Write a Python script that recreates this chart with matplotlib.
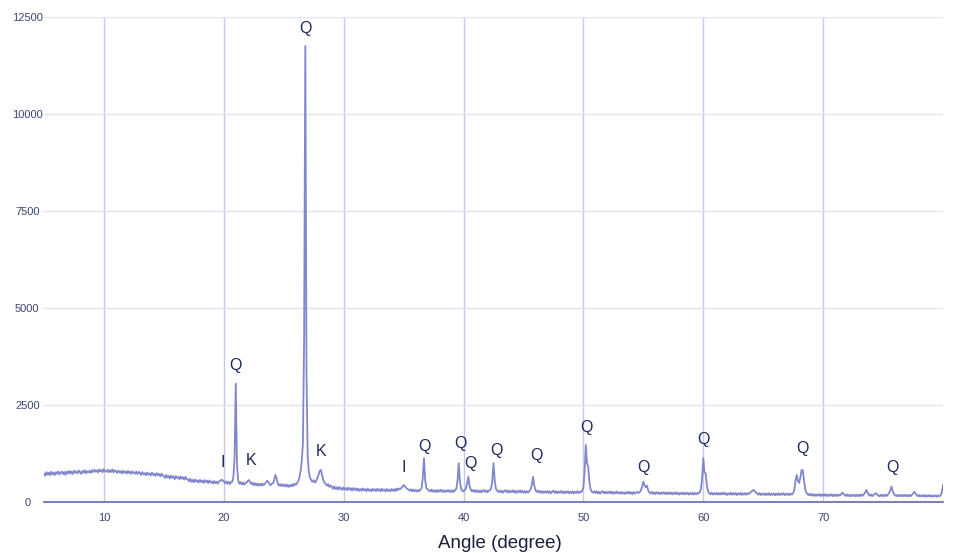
import matplotlib
matplotlib.use("Agg")
import matplotlib.pyplot as plt
import numpy as np

plt.rcParams['font.family'] = ['Liberation Sans', 'DejaVu Sans']

# XRD pattern, one value every 0.1 degree from 5.0 to 80.0
counts = [
    # 5.0 - 6.9
    730, 680, 770, 705, 755, 690, 780, 715, 760, 695, 770, 725, 790, 710, 760, 780, 720, 775, 700, 785,
    # 7.0 - 8.9
    735, 800, 730, 785, 720, 805, 750, 790, 735, 810, 770, 725, 800, 755, 820, 740, 795, 760, 810, 750,
    # 9.0 - 10.9
    820, 770, 835, 780, 815, 760, 840, 785, 825, 770, 850, 790, 780, 830, 765, 820, 775, 840, 760, 815,
    # 11.0 - 12.9
    800, 750, 810, 760, 795, 735, 805, 755, 790, 730, 800, 745, 785, 725, 790, 750, 730, 785, 720, 775,
    # 13.0 - 14.9
    755, 700, 770, 710, 745, 690, 760, 705, 740, 680, 755, 695, 730, 670, 745, 690, 725, 660, 730, 680,
    # 15.0 - 16.9
    675, 620, 700, 630, 670, 605, 680, 625, 660, 590, 665, 615, 650, 585, 660, 600, 640, 575, 650, 590,
    # 17.0 - 18.9
    585, 530, 600, 520, 570, 510, 580, 525, 560, 500, 570, 515, 555, 490, 565, 510, 550, 485, 555, 500,
    # 19.0 - 20.9
    530, 475, 540, 485, 525, 470, 535, 540, 575, 560, 530, 485, 530, 470, 520, 460, 510, 520, 640, 1150,
    # 21.0 - 22.9
    3050, 950, 560, 470, 515, 450, 500, 445, 490, 500, 540, 565, 510, 460, 500, 435, 485, 430, 475, 420,
    # 23.0 - 24.9
    470, 425, 480, 430, 465, 490, 545, 530, 470, 430, 470, 480, 560, 700, 610, 480, 420, 465, 410, 455,
    # 25.0 - 26.9
    405, 450, 395, 445, 390, 440, 400, 455, 410, 470, 440, 480, 530, 620, 780, 1050, 1500, 4200, 11750, 3300,
    # 27.0 - 28.9
    1150, 760, 620, 560, 520, 560, 500, 540, 610, 700, 800, 825, 690, 560, 500, 470, 420, 460, 390, 430,
    # 29.0 - 30.9
    395, 340, 405, 335, 380, 320, 390, 330, 365, 310, 375, 320, 360, 305, 370, 315, 355, 295, 360, 310,
    # 31.0 - 32.9
    350, 295, 345, 285, 335, 290, 350, 300, 330, 280, 345, 290, 325, 275, 340, 295, 330, 280, 340, 290,
    # 33.0 - 34.9
    330, 275, 340, 290, 325, 270, 335, 285, 320, 275, 335, 290, 330, 280, 345, 300, 350, 330, 360, 385,
    # 35.0 - 36.9
    440, 405, 370, 335, 320, 290, 330, 275, 320, 270, 315, 265, 310, 275, 320, 360, 620, 1130, 560, 360,
    # 37.0 - 38.9
    330, 290, 275, 320, 265, 310, 260, 305, 255, 310, 270, 315, 260, 305, 255, 300, 265, 310, 260, 300,
    # 39.0 - 40.9
    255, 305, 260, 310, 340, 560, 1000, 520, 340, 290, 270, 310, 350, 480, 650, 420, 320, 275, 310, 260,
    # 41.0 - 42.9
    305, 255, 300, 250, 295, 245, 290, 310, 260, 300, 250, 295, 300, 350, 540, 1000, 560, 340, 290, 260,
    # 43.0 - 44.9
    295, 245, 290, 240, 285, 305, 250, 295, 240, 290, 255, 300, 245, 290, 235, 285, 250, 300, 245, 290,
    # 45.0 - 46.9
    240, 285, 235, 280, 245, 285, 330, 450, 650, 420, 310, 260, 295, 240, 285, 235, 280, 230, 275, 240,
    # 47.0 - 48.9
    285, 230, 275, 225, 270, 290, 235, 280, 225, 270, 240, 285, 230, 275, 220, 270, 235, 280, 225, 265,
    # 49.0 - 50.9
    230, 275, 220, 265, 230, 280, 225, 270, 250, 290, 380, 800, 1470, 1000, 910, 520, 330, 260, 240, 280,
    # 51.0 - 52.9
    230, 275, 220, 265, 215, 260, 280, 225, 265, 215, 260, 230, 275, 220, 265, 210, 260, 225, 270, 220,
    # 53.0 - 54.9
    255, 210, 260, 215, 250, 205, 255, 220, 265, 210, 250, 205, 260, 215, 240, 260, 235, 255, 300, 400,
    # 55.0 - 56.9
    525, 430, 380, 420, 300, 250, 220, 260, 210, 250, 205, 255, 215, 250, 200, 245, 210, 255, 205, 245,
    # 57.0 - 58.9
    200, 250, 210, 245, 195, 240, 205, 250, 200, 240, 190, 235, 205, 245, 195, 235, 200, 240, 190, 230,
    # 59.0 - 60.9
    200, 240, 190, 235, 200, 235, 215, 250, 320, 600, 1130, 760, 740, 430, 280, 225, 195, 240, 190, 230,
    # 61.0 - 62.9
    195, 240, 190, 230, 185, 235, 200, 245, 190, 230, 180, 225, 195, 240, 185, 230, 190, 235, 180, 225,
    # 63.0 - 64.9
    190, 235, 180, 225, 190, 235, 185, 230, 205, 240, 260, 290, 310, 270, 240, 215, 185, 230, 180, 220,
    # 65.0 - 66.9
    185, 225, 175, 220, 180, 230, 175, 215, 185, 225, 170, 215, 180, 225, 175, 220, 185, 230, 175, 215,
    # 67.0 - 68.9
    180, 220, 175, 215, 195, 230, 320, 560, 695, 540, 490, 640, 825, 820, 560, 340, 240, 200, 175, 215,
    # 69.0 - 70.9
    165, 205, 160, 200, 155, 195, 165, 205, 150, 195, 160, 200, 155, 195, 150, 190, 160, 200, 150, 190,
    # 71.0 - 72.9
    155, 195, 150, 190, 170, 200, 240, 210, 180, 155, 195, 150, 190, 145, 185, 155, 195, 145, 185, 150,
    # 73.0 - 74.9
    190, 150, 195, 160, 200, 240, 310, 250, 195, 160, 195, 150, 190, 200, 230, 195, 165, 150, 190, 145,
    # 75.0 - 76.9
    185, 150, 190, 155, 190, 230, 300, 395, 290, 210, 180, 150, 185, 145, 180, 150, 190, 145, 185, 150,
    # 77.0 - 78.9
    180, 145, 185, 150, 185, 220, 265, 220, 180, 150, 180, 140, 175, 145, 180, 135, 175, 140, 180, 140,
    # 79.0 - 80.0
    175, 135, 170, 140, 175, 135, 170, 145, 175, 250, 440,
]
angles = np.round(5.0 + 0.1 * np.arange(len(counts)), 1)

# phase labels and where they sit (angle, counts)
peak_labels = ['Q', 'I', 'Q', 'K', 'K', 'I', 'Q', 'Q', 'Q', 'Q', 'Q', 'Q', 'Q', 'Q', 'Q', 'Q']
label_x = [26.8, 19.9, 21.0, 22.3, 28.1, 35.0, 36.75, 39.75, 40.6, 42.75, 46.1, 50.25, 55.0, 60.0, 68.25, 75.75]
label_y = [12200, 1030, 3530, 1060, 1290, 880, 1420, 1500, 980, 1320, 1190, 1930, 880, 1600, 1390, 880]

x_ticks = [10, 20, 30, 40, 50, 60, 70]
y_ticks = [0, 2500, 5000, 7500, 10000, 12500]

line_color = '#8087cc'
text_color = '#1e2a5e'

fig = plt.figure(figsize=(9.54, 5.53), dpi=100)
ax = fig.add_axes([44 / 954, 51 / 553, 899 / 954, 485 / 553])

ax.plot(angles, counts, color=line_color, lw=1.3)

for lab, lx, ly in zip(peak_labels, label_x, label_y):
    ax.text(lx, ly, lab, ha='center', va='center', fontsize=11.5, color=text_color)

ax.set_xlim(5, 80)
ax.set_ylim(0, 12500)
ax.set_xticks(x_ticks)
ax.set_yticks(y_ticks)

ax.grid(axis='x', color='#c6c9ec', lw=1.0)
ax.grid(axis='y', color='#e3e5f3', lw=1.0)
ax.set_axisbelow(True)

for side in ['top', 'right', 'left']:
    ax.spines[side].set_visible(False)
ax.spines['bottom'].set_color('#6b72ba')
ax.spines['bottom'].set_linewidth(1.3)

ax.tick_params(axis='both', length=0, labelsize=8, labelcolor='#3c4575')
ax.tick_params(axis='x', pad=8)
ax.tick_params(axis='y', pad=12)
for t in ax.get_yticklabels():
    t.set_horizontalalignment('center')

ax.set_xlabel('Angle (degree)', fontsize=13.5, color='#1a1f3a', va='center')
ax.xaxis.set_label_coords((500 - 44) / 899, -41 / 485)

fig.savefig('out.png', dpi=100)
